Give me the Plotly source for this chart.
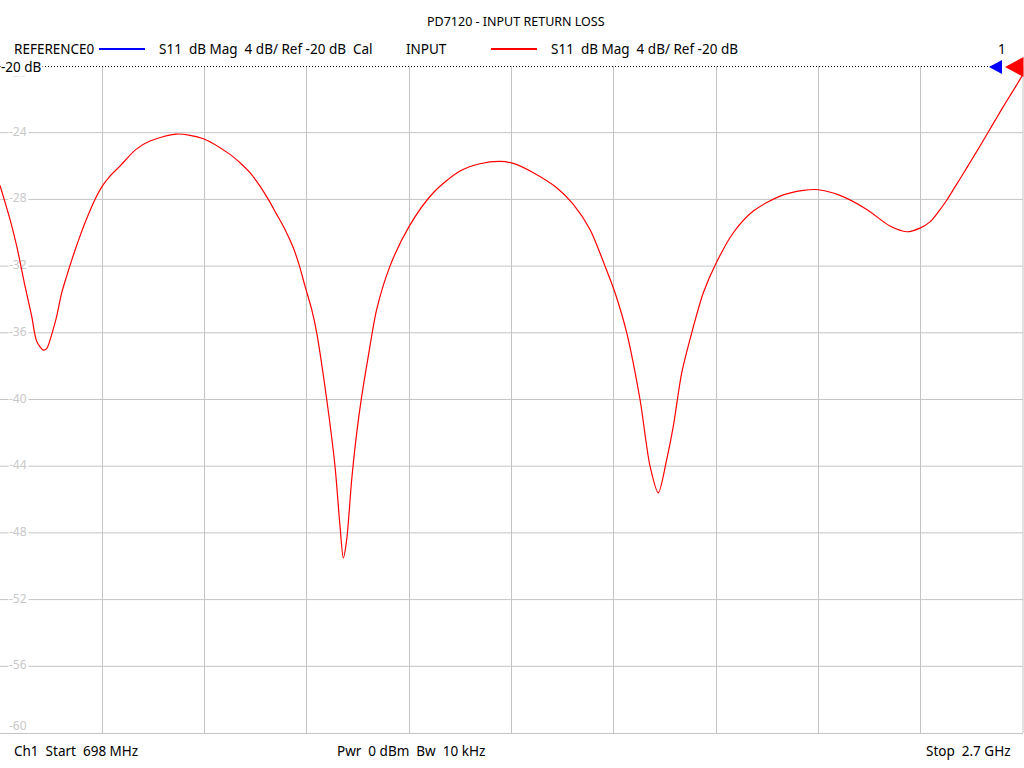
import plotly.graph_objects as go

# ---- data ----
freq_mhz = [698, 717.6, 730.7, 747, 760, 769.8, 782.7, 789.4, 801.1, 809, 818.7, 828.5, 835,
            844.8, 854.6, 867.7, 883.9, 898.2, 913.3, 932.8, 964.2, 991.6, 1043.8, 1095.9,
            1148.1, 1167.7, 1187.3, 1206.8, 1223.1, 1239.5, 1255.7, 1272, 1283.7, 1294.9,
            1308, 1317.8, 1337.4, 1353.6, 1363.4, 1369.9, 1376.5, 1386.3, 1396.1, 1405.9,
            1418.8, 1435.2, 1461.2, 1499, 1546, 1598.2, 1637.4, 1676.5, 1702.5, 1741.7,
            1787.5, 1820, 1852.6, 1882, 1901.6, 1924.5, 1950.5, 1970.1, 1986.3, 2002.7,
            2015.7, 2032.1, 2051.7, 2074.4, 2099.8, 2133.1, 2172.2, 2224.5, 2270.1, 2299.5,
            2341.9, 2394.2, 2439.7, 2472.4, 2498.4, 2518, 2534.3, 2550.7, 2566.9, 2583.2,
            2599.6, 2615.9, 2632.1, 2648.5, 2668.1, 2684.4, 2700]
s11_db = [-27.16, -29.2, -30.8, -33.2, -35.0, -36.5, -37.04, -36.95, -35.9, -35.0, -33.6, -32.6,
          -31.96, -31.05, -30.2, -29.15, -28.0, -27.2, -26.6, -26.0, -25.0, -24.5, -24.08, -24.36,
          -25.3, -25.8, -26.4, -27.2, -28.0, -28.9, -29.8, -30.9, -31.96, -33.2,
          -34.6, -36.0, -40.0, -44.0, -47.6, -49.5, -48.4, -44.8, -42.0, -39.8,
          -37.4, -34.6, -32.0, -29.6, -27.6, -26.3, -25.86, -25.72, -25.84, -26.4,
          -27.3, -28.3, -29.8, -32.0, -33.6, -36.0, -40.0, -44.0, -45.6, -43.6,
          -41.6, -38.4, -36.0, -33.6, -31.8, -30.0, -28.7, -27.8, -27.46, -27.42,
          -27.76, -28.6, -29.6, -29.94, -29.72, -29.35, -28.75, -28.05, -27.25, -26.45,
          -25.62, -24.8, -23.96, -23.1, -22.1, -21.3, -20.5]

y_tick_vals = [-20, -24, -28, -32, -36, -40, -44, -48, -52, -56, -60]
y_tick_text = ["-20", "-24", "-28", "-32", "-36", "-40", "-44", "-48", "-52", "-56", "-60"]

f_start, f_stop = 698, 2700
y_min, y_max = -60, -20
title_text = "PD7120 - INPUT RETURN LOSS"
ref_name = "REFERENCE0"
ref_desc = "S11  dB Mag  4 dB/ Ref -20 dB  Cal"
inp_name = "INPUT"
inp_desc = "S11  dB Mag  4 dB/ Ref -20 dB"
footer_left = "Ch1  Start  698 MHz"
footer_mid = "Pwr  0 dBm  Bw  10 kHz"
footer_right = "Stop  2.7 GHz"

FONT = "Noto Sans"
W, H = 1024, 768
PL, PR, PT, PB = 0, 1023, 66, 733
GRID = "#c4c4c4"
LABEL = "#c8c8c8"


def px(x):
    return (x - PL) / (PR - PL)


def py(y):
    return (PB - y) / (PB - PT)


def sp(s):
    return s.replace(" ", "\u00a0")


fig = go.Figure()

# y tick labels as a text trace, drawn under the measured curve
mhz_per_px = (f_stop - f_start) / (PR - PL)
db_per_px = (y_max - y_min) / (PB - PT)
lab_y = []
for v in y_tick_vals:
    if v == y_max:
        lab_y.append(v - 8 * db_per_px)
    elif v == y_min:
        lab_y.append(v + 6.5 * db_per_px)
    else:
        lab_y.append(v)
fig.add_trace(go.Scatter(x=[f_start + 9 * mhz_per_px] * len(y_tick_vals), y=lab_y,
                         mode="text", text=y_tick_text, textposition="middle right",
                         textfont=dict(family=FONT, size=12, color=LABEL),
                         showlegend=False, hoverinfo="skip", cliponaxis=False))

fig.add_trace(go.Scatter(x=freq_mhz, y=s11_db, mode="lines",
                         line=dict(color="#ff0000", width=1.2, shape="spline", smoothing=0.8,
                                   simplify=False),
                         showlegend=False, hoverinfo="skip"))

fig.update_layout(
    width=W, height=H,
    margin=dict(l=PL, r=W - PR, t=PT, b=H - PB),
    paper_bgcolor="white", plot_bgcolor="white",
    showlegend=False,
    xaxis=dict(range=[f_start, f_stop], tick0=f_start, dtick=(f_stop - f_start) / 10,
               showgrid=True, gridcolor=GRID, gridwidth=1, zeroline=False,
               showticklabels=False, ticks="", showline=True, linecolor=GRID,
               mirror=False),
    yaxis=dict(range=[y_min, y_max], showgrid=False, zeroline=False, showticklabels=False,
               ticks="", showline=True, linecolor=GRID, mirror=False),
)

shapes = []
# horizontal grid lines with a gap for the inside tick labels
for v in y_tick_vals[1:-1]:
    shapes.append(dict(type="line", xref="paper", yref="y", x0=0, x1=px(8.5), y0=v, y1=v,
                       layer="below", line=dict(color=GRID, width=1)))
    shapes.append(dict(type="line", xref="paper", yref="y", x0=px(28.5), x1=1, y0=v, y1=v,
                       layer="below", line=dict(color=GRID, width=1)))
# right border
shapes.append(dict(type="line", xref="paper", yref="paper", x0=1, x1=1, y0=0, y1=1,
                   line=dict(color=GRID, width=1)))
# reference dotted line (at the -20 dB reference level, pixel-aligned)
shapes.append(dict(type="line", xref="paper", yref="paper", x0=0, x1=px(992),
                   y0=py(66.5), y1=py(66.5),
                   line=dict(color="black", width=1, dash="1px,2px")))
# legend sample lines
shapes.append(dict(type="line", xref="paper", yref="paper", x0=px(99), x1=px(145),
                   y0=py(49), y1=py(49), line=dict(color="#0000ff", width=2)))
shapes.append(dict(type="line", xref="paper", yref="paper", x0=px(491), x1=px(537),
                   y0=py(49), y1=py(49), line=dict(color="#ff0000", width=2)))
# reference markers (triangles)
shapes.append(dict(type="path", xref="paper", yref="paper",
                   path=f"M {px(989)} {py(67)} L {px(1002)} {py(60)} L {px(1002)} {py(74)} Z",
                   fillcolor="#0000ff", line=dict(width=0)))
shapes.append(dict(type="path", xref="paper", yref="paper",
                   path=f"M {px(1005)} {py(67)} L {px(1023.5)} {py(57)} L {px(1023.5)} {py(77)} Z",
                   fillcolor="#ff0000", line=dict(width=0)))
fig.update_layout(shapes=shapes)

ann = []
ann.append(dict(xref="paper", yref="paper", x=0, y=py(67), text="-20\u00a0dB", showarrow=False,
                xanchor="left", yanchor="middle", font=dict(family=FONT, size=13.5, color="black"),
                bgcolor="white", borderpad=0))


def txt(x, y, s, anchor="left", size=13.5):
    ann.append(dict(xref="paper", yref="paper", x=px(x), y=py(y), text=sp(s), showarrow=False,
                    xanchor=anchor, yanchor="middle",
                    font=dict(family=FONT, size=size, color="black")))


txt(516, 21, title_text, "center", 12.5)
txt(12, 49, ref_name)
txt(157, 49, ref_desc)
txt(404, 49, inp_name)
txt(549, 49, inp_desc)
txt(1008, 49, "1", "right")
txt(12, 751, footer_left)
txt(335, 751, footer_mid)
txt(1013, 751, footer_right, "right")
fig.update_layout(annotations=ann)

fig.write_html("out.html", config={"displayModeBar": False},
               post_script="document.body.style.margin='0';")
